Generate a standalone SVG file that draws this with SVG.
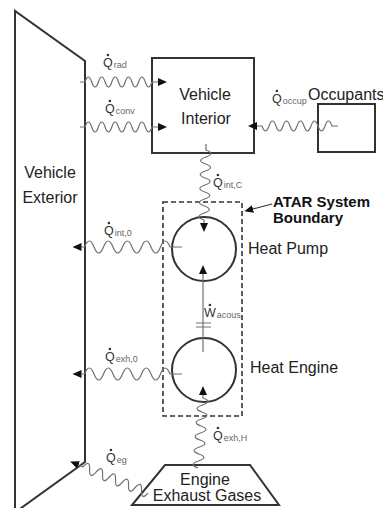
<svg xmlns="http://www.w3.org/2000/svg" width="383" height="508" viewBox="0 0 383 508">
<defs>
<style>
.solid{fill:none;stroke:#333;stroke-width:2}
.wave{fill:none;stroke:#707070;stroke-width:1.2}
.lbl{font-family:"Liberation Sans",Arial,sans-serif;font-size:16px;fill:#222}
.bold{font-family:"Liberation Sans",Arial,sans-serif;font-size:15px;font-weight:bold;fill:#111}
.q{font-family:"Liberation Sans",Arial,sans-serif;font-size:12.5px;fill:#333}
.sub{font-size:9px;fill:#666}
.dot{fill:#333}
</style>
<marker id="ah" viewBox="0 -5 10 10" refX="0" refY="0" markerWidth="10" markerHeight="10" markerUnits="userSpaceOnUse" orient="auto">
<path d="M0,-4 L9,0 L0,4 Z" fill="#111"/>
</marker>
</defs>
<rect width="383" height="508" fill="#fff"/>

<g id="vehicle-exterior">
<polyline class="solid" points="15,510 15,11 85,61 85,462 17,511"/>
<text class="lbl" x="50" y="178" text-anchor="middle">Vehicle</text>
<text class="lbl" x="50" y="203" text-anchor="middle">Exterior</text>
</g>

<g id="vehicle-interior">
<rect class="solid" x="152" y="58" width="102" height="95"/>
<text class="lbl" x="205" y="100" text-anchor="middle">Vehicle</text>
<text class="lbl" x="206" y="124" text-anchor="middle">Interior</text>
</g>

<g id="occupants">
<rect class="solid" x="318" y="104" width="57" height="48"/>
<text class="lbl" x="308" y="100">Occupants</text>
</g>

<g id="atar-boundary">
<rect x="163" y="202" width="79" height="214" fill="none" stroke="#333" stroke-width="1.6" stroke-dasharray="5 3"/>
<text class="bold" x="273" y="207">ATAR System</text>
<text class="bold" x="273" y="223">Boundary</text>
</g>

<g id="heat-pump">
<circle class="solid" cx="204" cy="249" r="32"/>
<text class="lbl" x="248" y="254">Heat Pump</text>
</g>

<g id="heat-engine">
<circle class="solid" cx="204" cy="370" r="32"/>
<text class="lbl" x="250" y="373">Heat Engine</text>
</g>

<g id="engine-exhaust">
<polygon class="solid" points="165,465 250,465 279,505 132,505"/>
<text class="lbl" x="205" y="485" text-anchor="middle">Engine</text>
<text class="lbl" x="207" y="501" text-anchor="middle">Exhaust Gases</text>
</g>

<g id="connectors">
<path class="wave" marker-end="url(#ah)" d="M80 82 h5 q3.35 -10 6.7 0 t6.7 0 t6.7 0 t6.7 0 t6.7 0 t6.7 0 t6.7 0 t6.7 0 t6.7 0 t6.7 0 h6"/>
<path class="wave" marker-end="url(#ah)" d="M80 127 h5 q3.35 -10 6.7 0 t6.7 0 t6.7 0 t6.7 0 t6.7 0 t6.7 0 t6.7 0 t6.7 0 t6.7 0 t6.7 0 h6"/>
<path class="wave" marker-end="url(#ah)" d="M338 126 h-6 q-3.5 -10 -7 0 t-7 0 t-7 0 t-7 0 t-7 0 t-7 0 t-7 0 t-7 0 t-7 0 t-7 0 h-5"/>
<path class="wave" marker-end="url(#ah)" d="M206 144 v6 q10 3.5 -0.2 7 t-0.2 7 t-0.2 7 t-0.2 7 t-0.2 7 t-0.2 7 t-0.2 7 t-0.2 7 t-0.2 7 t-0.2 7 v3"/>
<path class="wave" marker-end="url(#ah)" d="M182 247 h-12 q-4.75 -12 -9.5 0 t-9.5 0 t-9.5 0 t-9.5 0 t-9.5 0 t-9.5 0 t-9.5 0 t-9.5 0 t-9.5 0 h-3"/>
<path class="wave" marker-end="url(#ah)" d="M182 374 h-12 q-4.75 -12 -9.5 0 t-9.5 0 t-9.5 0 t-9.5 0 t-9.5 0 t-9.5 0 t-9.5 0 t-9.5 0 t-9.5 0 h-3"/>
<path class="wave" marker-end="url(#ah)" d="M198 468 q-10 -3.5 0.5 -7 t0.5 -7 t0.5 -7 t0.5 -7 t0.5 -7 t0.5 -7 t0.5 -7 t0.5 -7 t0.5 -7 t0.5 -7 l0 -3"/>
<path class="wave" marker-end="url(#ah)" transform="translate(148 493) rotate(202)" d="M0 0 q3.5 -10 7 0 t7 0 t7 0 t7 0 t7 0 t7 0 t7 0 t7 0 t7 0 t7 0 h5"/>
<path fill="none" stroke="#707070" stroke-width="1.2" marker-end="url(#ah)" d="M203 352 V274"/>
<path fill="none" stroke="#707070" stroke-width="1.2" d="M196 323 H211 M196 327 H211"/>
<path fill="none" stroke="#333" stroke-width="1.2" marker-end="url(#ah)" d="M272 204 L253 209"/>
</g>

<g id="labels">
<text class="q" x="103" y="67">Q<tspan class="sub" dx="1" dy="1">rad</tspan></text>
<circle class="dot" cx="107.9" cy="55" r="1.3"/>
<text class="q" x="105" y="113">Q<tspan class="sub" dx="1" dy="1">conv</tspan></text>
<circle class="dot" cx="109.9" cy="101" r="1.3"/>
<text class="q" x="272" y="103">Q<tspan class="sub" dx="1" dy="1">occup</tspan></text>
<circle class="dot" cx="276.9" cy="91" r="1.3"/>
<text class="q" x="213" y="187">Q<tspan class="sub" dx="1" dy="1">int,C</tspan></text>
<circle class="dot" cx="217.9" cy="175" r="1.3"/>
<text class="q" x="104" y="235">Q<tspan class="sub" dx="1" dy="1">int,0</tspan></text>
<circle class="dot" cx="108.9" cy="223" r="1.3"/>
<text class="q" x="204" y="317">W<tspan class="sub" dx="1" dy="1">acous</tspan></text>
<circle class="dot" cx="209.9" cy="305" r="1.3"/>
<text class="q" x="105" y="361">Q<tspan class="sub" dx="1" dy="1">exh,0</tspan></text>
<circle class="dot" cx="109.9" cy="349" r="1.3"/>
<text class="q" x="213" y="440">Q<tspan class="sub" dx="1" dy="1">exh,H</tspan></text>
<circle class="dot" cx="217.9" cy="428" r="1.3"/>
<text class="q" x="106" y="462">Q<tspan class="sub" dx="1" dy="1">eg</tspan></text>
<circle class="dot" cx="110.9" cy="450" r="1.3"/>
</g>
</svg>
